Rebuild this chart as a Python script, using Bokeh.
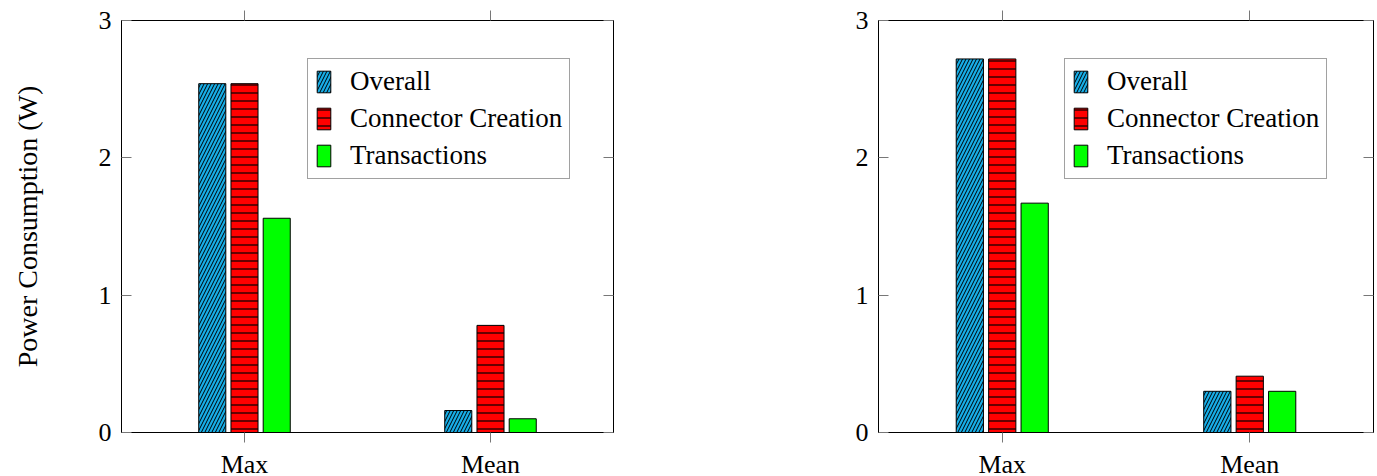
from bokeh.plotting import figure
from bokeh.models import (ColumnDataSource, Range1d, FixedTicker, LinearAxis, CategoricalAxis,
                          CustomLabelingPolicy, GlobalInlineStyleSheet, InlineStyleSheet)
from bokeh.transform import dodge
from bokeh.layouts import row
from bokeh.embed import file_html
from bokeh.resources import INLINE

categories = ["Max", "Mean"]
series = ["Overall", "Connector Creation", "Transactions"]
left_overall = [2.54, 0.16]
left_connector = [2.54, 0.78]
left_transactions = [1.56, 0.10]
right_overall = [2.72, 0.30]
right_connector = [2.72, 0.41]
right_transactions = [1.67, 0.30]
y_ticks = [0, 1, 2, 3]
y_title = "Power Consumption (W)"

FONT = "Liberation Serif"
FS = "26px"
BLUE = "#17ade6"
RED = "#ff0000"
GREEN = "#00ff00"

HIDE = "for (const i of Array.from(indices)) { indices.unset(i) }\nreturn indices"


def make_plot(overall, connector, transactions, width, border_left, border_right, show_ylabel):
    src = ColumnDataSource(dict(cat=categories, overall=overall,
                                connector=connector, transactions=transactions))
    p = figure(x_range=categories, y_range=Range1d(0, 3), width=width, height=476,
               output_backend="svg", toolbar_location=None,
               min_border_left=border_left, min_border_right=border_right,
               min_border_top=12, min_border_bottom=52,
               stylesheets=[InlineStyleSheet(css=":host { flex-shrink: 0 !important; }")])
    p.xgrid.grid_line_color = None
    p.ygrid.grid_line_color = None
    p.outline_line_color = "black"
    p.outline_line_width = 1
    p.background_fill_color = "white"
    p.border_fill_color = "white"

    bw = 0.11
    off = 0.131
    p.vbar(x=dodge("cat", -off, range=p.x_range), top="overall", width=bw, source=src,
           fill_color=BLUE, line_color="black", line_width=1,
           hatch_pattern="/", hatch_scale=7, hatch_color="black", hatch_weight=1,
           legend_label=series[0])
    p.vbar(x=dodge("cat", 0, range=p.x_range), top="connector", width=bw, source=src,
           fill_color=RED, line_color="black", line_width=1,
           hatch_pattern="-", hatch_scale=8, hatch_color="black", hatch_weight=1.2,
           legend_label=series[1])
    p.vbar(x=dodge("cat", off, range=p.x_range), top="transactions", width=bw, source=src,
           fill_color=GREEN, line_color="black", line_width=1,
           legend_label=series[2])

    # bottom axis
    xa = p.xaxis[0]
    xa.major_tick_in = 0
    xa.major_tick_out = 10
    xa.major_tick_line_color = "#777777"
    xa.axis_line_color = "black"
    xa.major_label_text_font = FONT
    xa.major_label_text_font_size = FS
    xa.major_label_text_color = "black"
    xa.major_label_standoff = 7
    xa.minor_tick_line_color = None

    # left axis
    ya = p.yaxis[0]
    ya.ticker = FixedTicker(ticks=y_ticks)
    ya.major_tick_in = 10
    ya.major_tick_out = 0
    ya.major_tick_line_color = "#777777"
    ya.minor_tick_line_color = None
    ya.minor_tick_out = 0
    ya.axis_line_color = "black"
    ya.major_label_text_font = FONT
    ya.major_label_text_font_size = FS
    ya.major_label_text_color = "black"
    ya.major_label_standoff = 10
    if show_ylabel:
        ya.axis_label = y_title
        ya.axis_label_text_font = FONT
        ya.axis_label_text_font_size = "28px"
        ya.axis_label_text_font_style = "normal"
        ya.axis_label_text_color = "black"
        ya.axis_label_standoff = 53

    # top axis (ticks only)
    ta = CategoricalAxis(major_tick_in=0, major_tick_out=10, major_tick_line_color="#777777",
                         minor_tick_in=0, minor_tick_out=0,
                         axis_line_color="black", major_label_text_font_size="0px",
                         major_label_standoff=0, axis_label_standoff=0,
                         major_label_overrides={c: "" for c in categories},
                         major_label_policy=CustomLabelingPolicy(code=HIDE))
    p.add_layout(ta, "above")
    # right axis (ticks only)
    ra = LinearAxis(ticker=FixedTicker(ticks=y_ticks), major_tick_in=10, major_tick_out=0,
                    major_tick_line_color="#777777", minor_tick_line_color=None,
                    minor_tick_in=0, minor_tick_out=0,
                    axis_line_color="black", major_label_text_font_size="0px",
                    major_label_standoff=0, axis_label_standoff=0,
                    major_label_overrides={t: "" for t in y_ticks},
                    major_label_policy=CustomLabelingPolicy(code=HIDE))
    p.add_layout(ra, "right")

    lg = p.legend[0]
    lg.location = (186, 253)
    lg.label_text_font = FONT
    lg.label_text_font_size = "27px"
    lg.label_text_color = "black"
    lg.label_height = 27
    lg.glyph_height = 27
    lg.glyph_width = 17
    lg.spacing = 6
    lg.padding = 7
    lg.margin = 0
    lg.label_standoff = 18
    lg.border_line_color = "#444444"
    lg.border_line_width = 1
    lg.background_fill_alpha = 1
    return p


p1 = make_plot(left_overall, left_connector, left_transactions, 844, 108, 239, True)
p2 = make_plot(right_overall, right_connector, right_transactions, 525, 24, 4, False)

css = GlobalInlineStyleSheet(css="html, body { overflow: hidden; } body { margin: 8px 0 0 8px; }")
p = row(p1, p2, stylesheets=[css])
open("out.html", "w").write(file_html(p, INLINE))
